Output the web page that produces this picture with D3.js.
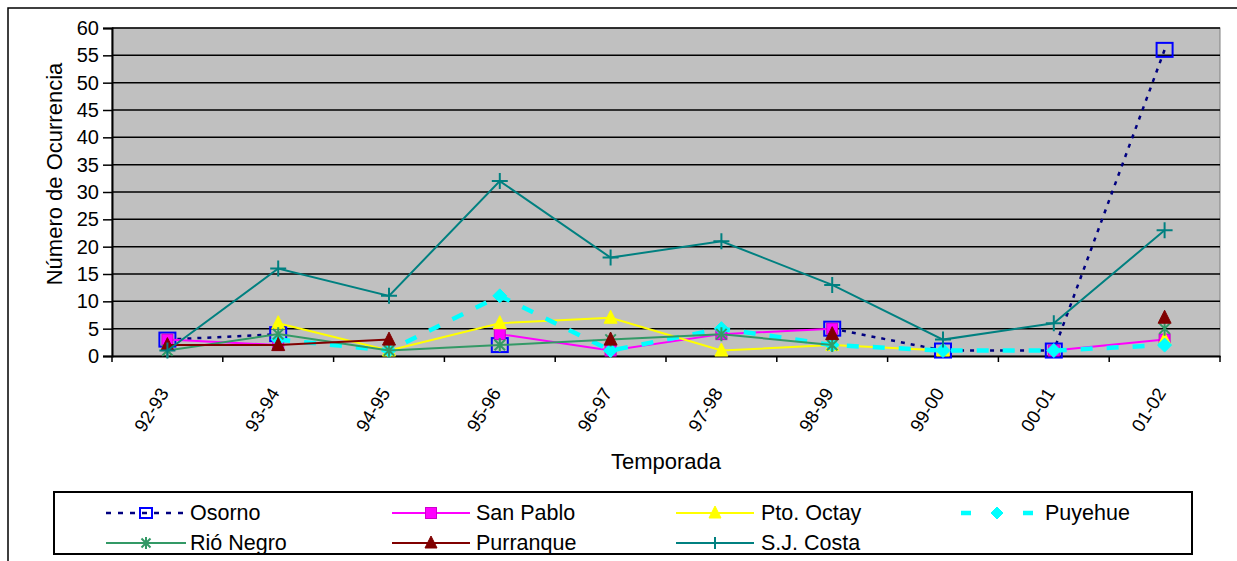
<!DOCTYPE html>
<html><head><meta charset="utf-8">
<script src="https://cdn.jsdelivr.net/npm/d3@7"></script>
<style>
body{margin:0;background:#fff}
text{font-family:"Liberation Sans",Arial,sans-serif;fill:#000}
</style>
</head><body>
<svg id="c" width="1237" height="561"></svg>
<script>
// ---- data ----
const categories = ["92-93","93-94","94-95","95-96","96-97","97-98","98-99","99-00","00-01","01-02"];
const osorno    = [3, 4, null, 2, null, null, 5, 1, 1, 56];
const sanPablo  = [3, 2, null, 4, 1, 4, 5, null, 1, 3];
const ptoOctay  = [null, 6, 1, 6, 7, 1, 2, 1, null, 3];
const puyehue   = [null, 3, 1, 11, 1, 5, 2, 1, 1, 2];
const rioNegro  = [1, 4, 1, 2, 3, 4, 2, null, null, 5];
const purranque = [2, 2, 3, null, 3, null, 4, null, null, 7];
const sjCosta   = [1, 16, 11, 32, 18, 21, 13, 3, 6, 23];
const seriesNames = ["Osorno","San Pablo","Pto. Octay","Puyehue","Rió Negro","Purranque","S.J. Costa"];
const yTicks = [0,5,10,15,20,25,30,35,40,45,50,55,60];
const yTitle = "Número de Ocurrencia";
const xTitle = "Temporada";

const series = [
  {name: seriesNames[0], values: osorno,    color:"#000080", width:2.5, dash:"4,6",  ldash:"5,7",  marker:"squareOpen", mcolor:"#0000FF", msize:16},
  {name: seriesNames[1], values: sanPablo,  color:"#FF00FF", width:2,   dash:null,   ldash:null,   marker:"square",     mcolor:"#FF00FF", msize:11},
  {name: seriesNames[2], values: ptoOctay,  color:"#FFFF00", width:2,   dash:null,   ldash:null,   marker:"triangle",   mcolor:"#FFFF00", msize:13},
  {name: seriesNames[3], values: puyehue,   color:"#00FFFF", width:4.5, dash:"12,14",ldash:"10,52",marker:"diamond",    mcolor:"#00FFFF", msize:14},
  {name: seriesNames[4], values: rioNegro,  color:"#339966", width:2,   dash:null,   ldash:null,   marker:"star",       mcolor:"#339966", msize:14},
  {name: seriesNames[5], values: purranque, color:"#800000", width:2,   dash:null,   ldash:null,   marker:"triangle",   mcolor:"#800000", msize:13},
  {name: seriesNames[6], values: sjCosta,   color:"#008080", width:2,   dash:null,   ldash:null,   marker:"plus",       mcolor:"#008080", msize:16}
];

const svg = d3.select("#c");
const L = 112, R = 1220, T = 28, B = 356;

// outer frame
svg.append("rect").attr("x",8).attr("y",8).attr("width",1240).attr("height",570)
  .attr("fill","none").attr("stroke","#000").attr("stroke-width",1.5);

const x = d3.scaleBand().domain(categories).range([L,R]).padding(0);
const y = d3.scaleLinear().domain([0,60]).range([B,T]);

// plot area
svg.append("rect").attr("x",L).attr("y",T).attr("width",R-L).attr("height",B-T)
  .attr("fill","#C0C0C0").attr("stroke","#808080").attr("stroke-width",1);

// gridlines
svg.append("g").selectAll("line").data(yTicks.filter(d=>d>0)).join("line")
  .attr("x1",L).attr("x2",R).attr("y1",d=>y(d)).attr("y2",d=>y(d))
  .attr("stroke","#000").attr("stroke-width",1.5);

// y axis
const yAxis = svg.append("g").attr("transform",`translate(${L},0)`)
  .call(d3.axisLeft(y).tickValues(yTicks).tickSize(9).tickPadding(4));
yAxis.select(".domain").attr("stroke","#000").attr("stroke-width",2);
yAxis.selectAll(".tick line").attr("stroke","#000").attr("stroke-width",1.5);
yAxis.selectAll(".tick text").attr("font-size",20).attr("font-family","Liberation Sans, Arial, sans-serif");

// x axis
const xAxis = svg.append("g").attr("transform",`translate(0,${B})`)
  .call(d3.axisBottom(x).tickSize(0).tickFormat(""));
xAxis.select(".domain").attr("stroke","#000").attr("stroke-width",2);
const bounds = categories.map(c=>x(c)).concat([R]);
svg.append("g").selectAll("line").data(bounds).join("line")
  .attr("x1",d=>d).attr("x2",d=>d).attr("y1",B).attr("y2",B+6)
  .attr("stroke","#000").attr("stroke-width",1.5);

// x tick labels rotated
svg.append("g").selectAll("text").data(categories).join("text")
  .attr("transform",d=>`translate(${x(d)+x.bandwidth()/2+2},${B+37}) rotate(-58)`)
  .attr("text-anchor","end").attr("font-size",18.5).text(d=>d);

// titles
svg.append("text").attr("transform",`translate(62,174) rotate(-90)`)
  .attr("text-anchor","middle").attr("font-size",22).text(yTitle);
svg.append("text").attr("x",666).attr("y",469)
  .attr("text-anchor","middle").attr("font-size",22).text(xTitle);

// marker drawing
function drawMarker(g, type, cx, cy, s, col){
  const h = s/2;
  if(type==="squareOpen"){
    g.append("rect").attr("x",cx-h).attr("y",cy-h+1).attr("width",s).attr("height",s-2)
      .attr("fill","none").attr("stroke",col).attr("stroke-width",2);
  } else if(type==="square"){
    g.append("rect").attr("x",cx-h).attr("y",cy-h).attr("width",s).attr("height",s)
      .attr("fill",col).attr("stroke","#CC00CC").attr("stroke-width",1);
  } else if(type==="triangle"){
    g.append("path").attr("d",`M${cx},${cy-h-1}L${cx+h},${cy+h-1}L${cx-h},${cy+h-1}Z`)
      .attr("fill",col).attr("stroke",col).attr("stroke-width",1);
  } else if(type==="diamond"){
    g.append("path").attr("d",`M${cx},${cy-h}L${cx+h},${cy}L${cx},${cy+h}L${cx-h},${cy}Z`)
      .attr("fill",col).attr("stroke",col).attr("stroke-width",1);
  } else if(type==="plus"){
    g.append("path").attr("d",`M${cx-h},${cy}L${cx+h},${cy}M${cx},${cy-h}L${cx},${cy+h}`)
      .attr("stroke",col).attr("stroke-width",2).attr("fill","none");
  } else if(type==="star"){
    const d = h*0.75;
    g.append("path").attr("d",`M${cx-d},${cy-d}L${cx+d},${cy+d}M${cx+d},${cy-d}L${cx-d},${cy+d}M${cx},${cy-h}L${cx},${cy+h}`)
      .attr("stroke",col).attr("stroke-width",2).attr("fill","none");
  }
}

const line = d3.line().defined(d=>d.v!=null).x(d=>x(d.c)+x.bandwidth()/2).y(d=>y(d.v));
const plot = svg.append("g");
series.forEach(s=>{
  const pts = categories.map((c,i)=>({c, v:s.values[i]}));
  const g = plot.append("g");
  g.append("path").datum(pts).attr("d",line).attr("fill","none")
    .attr("stroke",s.color).attr("stroke-width",s.width)
    .attr("stroke-dasharray",s.dash);
  pts.filter(p=>p.v!=null).forEach(p=>{
    drawMarker(g, s.marker, x(p.c)+x.bandwidth()/2, y(p.v), s.msize, s.mcolor);
  });
});

// legend
svg.append("rect").attr("x",54).attr("y",492).attr("width",1138).attr("height",62)
  .attr("fill","#fff").attr("stroke","#000").attr("stroke-width",2);
const legPos = [
  {x1:106,x2:186,tx:190,y:513},{x1:392,x2:470,tx:476,y:513},{x1:676,x2:754,tx:761,y:513},{x1:961,x2:1033,tx:1045,y:513},
  {x1:106,x2:186,tx:190,y:543},{x1:392,x2:470,tx:476,y:543},{x1:676,x2:754,tx:761,y:543}
];
const lg = svg.append("g");
series.forEach((s,i)=>{
  const p = legPos[i];
  const g = lg.append("g");
  g.append("line").attr("x1",p.x1).attr("x2",p.x2).attr("y1",p.y).attr("y2",p.y)
    .attr("stroke",s.color).attr("stroke-width",s.width).attr("stroke-dasharray",s.ldash);
  drawMarker(g, s.marker, (p.x1+p.x2)/2, p.y, Math.min(s.msize,12), s.mcolor);
  g.append("text").attr("x",p.tx).attr("y",p.y+7).attr("font-size",21.5).text(s.name);
});
</script>
</body></html>
